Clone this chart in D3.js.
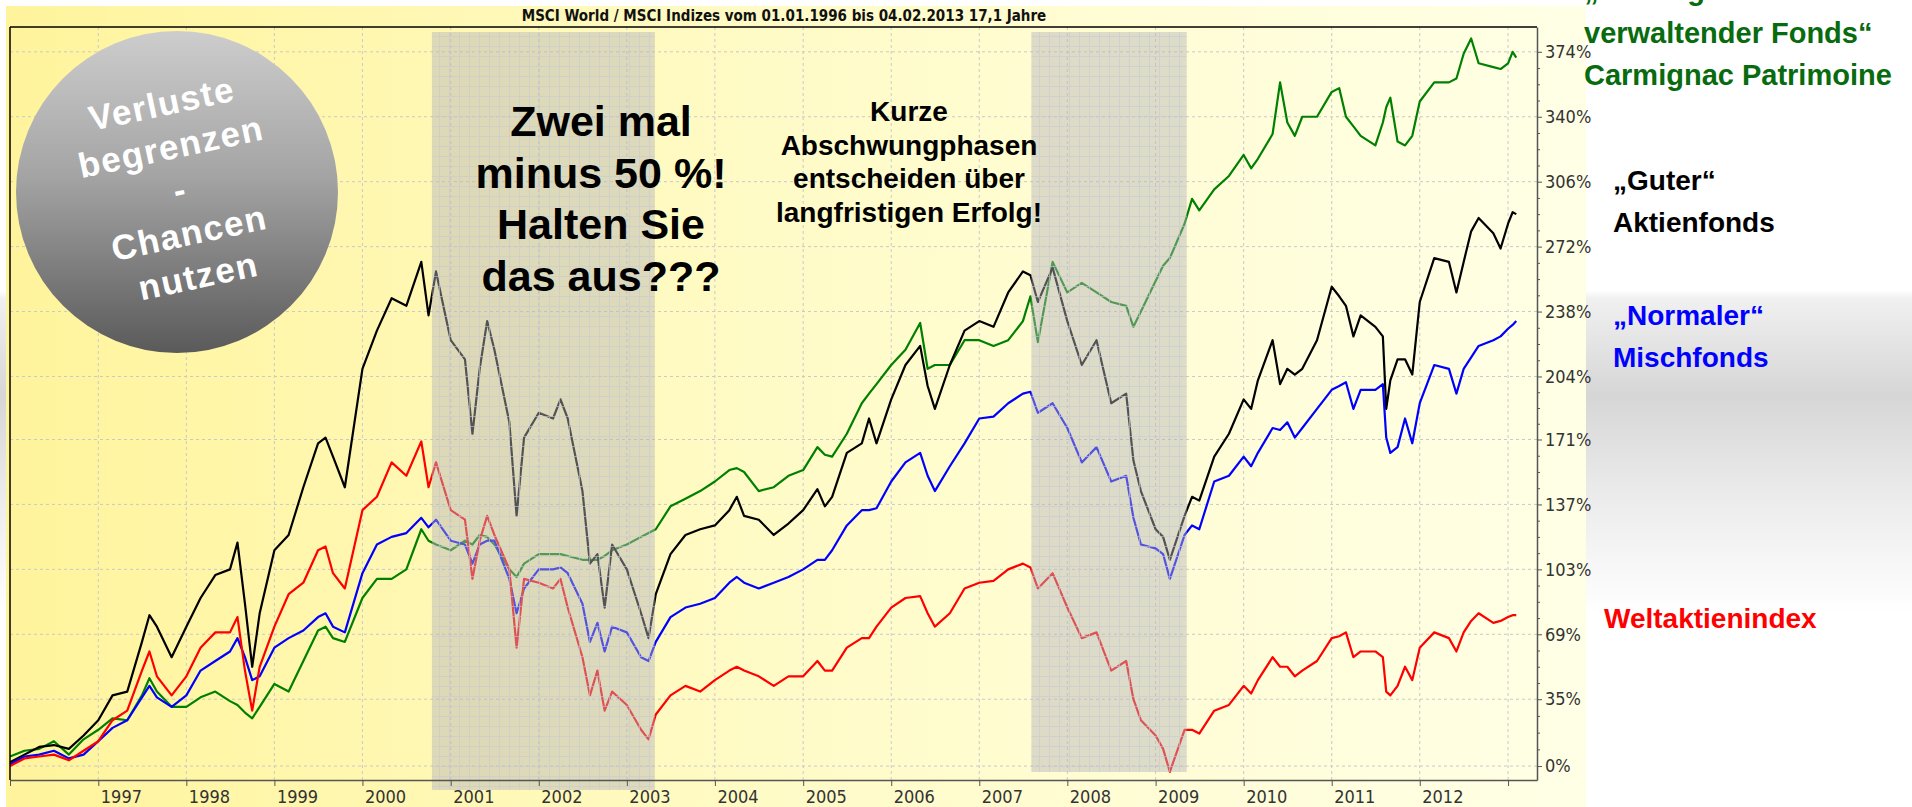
<!DOCTYPE html>
<html>
<head>
<meta charset="utf-8">
<script src="https://cdn.jsdelivr.net/npm/d3@7"></script>
<style>
  body { margin: 0; background: #fff; }
  svg { display: block; }
  .narrow { font-family: "Liberation Sans Narrow", "Arial Narrow", "DejaVu Sans Condensed", sans-serif; }
  .bold { font-family: "Liberation Sans", Arial, Helvetica, sans-serif; font-weight: bold; }
</style>
</head>
<body>
<svg id="chart"></svg>
<script>
// values, % performance since 01.01.1996
const dates = [
  '1996-01-01','1996-03-01','1996-05-01','1996-07-01','1996-09-01','1996-11-01',
  '1997-01-01','1997-03-01','1997-05-01','1997-07-01','1997-08-01','1997-09-01','1997-11-01',
  '1998-01-01','1998-03-01','1998-05-01','1998-07-01','1998-08-01','1998-09-01','1998-10-01','1998-11-01',
  '1999-01-01','1999-03-01','1999-05-01','1999-07-01','1999-08-01','1999-09-01','1999-10-20',
  '2000-01-01','2000-03-01','2000-05-01','2000-07-01','2000-09-01','2000-10-01','2000-11-01',
  '2001-01-01','2001-03-01','2001-04-01','2001-05-01','2001-06-01','2001-07-01','2001-09-01','2001-10-01','2001-11-01',
  '2002-01-01','2002-03-01','2002-04-01','2002-05-01','2002-07-01','2002-08-01','2002-09-01','2002-10-01','2002-11-01',
  '2003-01-01','2003-03-01','2003-04-01','2003-05-01','2003-07-01','2003-09-01','2003-11-01',
  '2004-01-01','2004-03-01','2004-04-01','2004-05-01','2004-07-01','2004-09-01','2004-11-01',
  '2005-01-01','2005-03-01','2005-04-01','2005-05-01','2005-07-01','2005-09-01','2005-10-01','2005-11-01',
  '2006-01-01','2006-03-01','2006-05-01','2006-06-01','2006-07-01','2006-09-01','2006-11-01',
  '2007-01-01','2007-03-01','2007-05-01','2007-07-01','2007-08-01','2007-09-01','2007-11-01',
  '2008-01-01','2008-03-01','2008-05-01','2008-07-01','2008-09-01','2008-10-01','2008-11-01',
  '2009-01-01','2009-02-01','2009-03-01','2009-05-01','2009-06-01','2009-07-01','2009-09-01','2009-11-01',
  '2010-01-01','2010-02-01','2010-03-01','2010-05-01','2010-06-01','2010-07-01','2010-08-01','2010-09-01','2010-11-01',
  '2011-01-01','2011-02-01','2011-03-01','2011-04-01','2011-05-01','2011-07-01','2011-08-01','2011-08-15','2011-09-01','2011-10-01','2011-11-01','2011-12-01',
  '2012-01-01','2012-03-01','2012-05-01','2012-06-01','2012-07-01','2012-08-01','2012-09-01','2012-11-01','2012-12-01',
  '2013-01-01','2013-01-20','2013-02-04'
];

// "Guter" Aktienfonds (black)
const aktienfonds = [
  2, 6, 10, 11, 9, 16,
  24, 37, 39, 65, 79, 73, 57,
  73, 88, 100, 103, 117, 85, 52, 80,
  113, 121, 146, 169, 172, 162, 146,
  208, 228, 245, 241, 264, 236, 259,
  223, 213, 174, 208, 233, 218, 180, 131, 172,
  185, 182, 192, 182, 144, 106, 111, 83, 116,
  103, 80, 67, 90, 111, 121, 124,
  126, 134, 141, 131, 129, 121, 127,
  134, 145, 136, 141, 164, 169, 182, 169,
  192, 210, 220, 199, 187, 210, 228,
  233, 230, 248, 259, 257, 243, 261,
  233, 210, 223, 190, 195, 160, 144,
  124, 120, 108, 131, 141, 139, 162, 174,
  192, 187, 202, 223, 200, 208, 205, 208, 223,
  251, 246, 241, 225, 236, 230, 225, 187, 202, 213, 213, 205,
  243, 266, 264, 248, 264, 280, 287, 279, 271,
  284, 290, 289
];

// Carmignac Patrimoine (green)
const carmignac = [
  5, 8, 9, 13, 6, 14,
  19, 25, 24, 37, 46, 39, 31,
  31, 36, 39, 34, 32, 28, 25, 31,
  43, 39, 55, 71, 73, 67, 65,
  88, 98, 98, 103, 124, 118, 116,
  113, 118, 116, 121, 120, 116, 103, 99, 106,
  111, 111, 111, 110, 108, 108, 108, 110, 113,
  116, 120, 122, 124, 136, 140, 144,
  149, 155, 156, 154, 144, 146, 152,
  155, 167, 163, 162, 174, 190, 195, 200,
  210, 218, 232, 208, 210, 210, 223,
  223, 220, 223, 233, 246, 222, 264,
  248, 253, 248, 243, 241, 230, 238,
  254, 262, 266, 284, 297, 291, 302, 309,
  320, 313, 318, 331, 358, 337, 330, 340, 340,
  353, 355, 340, 335, 330, 325, 337, 345, 350, 327, 325, 330,
  348, 358, 358, 360, 373, 381, 368, 366, 365,
  368, 374, 371
];

// "Normaler" Mischfonds (blue)
const mischfonds = [
  1, 5, 6, 8, 4, 6,
  13, 20, 24, 36, 42, 36, 31,
  37, 50, 55, 60, 67, 57, 45, 47,
  62, 67, 71, 78, 80, 73, 70,
  101, 116, 120, 122, 130, 125, 129,
  118, 116, 106, 116, 118, 118, 98, 80, 93,
  103, 103, 104, 101, 85, 65, 75, 60, 73,
  70, 57, 55, 65, 78, 83, 85,
  88, 96, 99, 96, 93, 96, 99,
  103, 108, 108, 113, 126, 134, 134, 135,
  149, 159, 164, 152, 144, 157, 169,
  182, 183, 190, 195, 196, 185, 190,
  177, 159, 167, 149, 152, 130, 116,
  114, 111, 98, 121, 126, 124, 149, 152,
  162, 157, 164, 177, 176, 180, 172, 177, 187,
  197, 199, 201, 187, 197, 197, 200, 172, 164, 167, 182, 169,
  190, 210, 208, 195, 208, 214, 220, 223, 225,
  229, 231, 233
];

// Weltaktienindex (red)
const weltindex = [
  0, 4, 5, 6, 3, 8,
  13, 24, 29, 50, 60, 47, 37,
  47, 62, 70, 70, 78, 50, 29, 52,
  73, 90, 96, 113, 115, 101, 93,
  134, 141, 159, 152, 170, 146, 159,
  134, 129, 98, 118, 131, 121, 103, 62, 98,
  96, 93, 98, 83, 57, 37, 50, 29, 39,
  32, 19, 14, 27, 37, 42, 39,
  45, 50, 52, 50, 47, 42, 47,
  47, 55, 50, 50, 62, 67, 67, 73,
  83, 88, 89, 80, 73, 80, 93,
  96, 97, 103, 106, 104, 93, 101,
  83, 67, 70, 50, 55, 35, 24,
  16, 9, -3, 19, 19, 17, 29, 32,
  42, 38, 45, 57, 52, 52, 47, 50, 55,
  67, 68, 70, 57, 60, 60, 57, 39, 37, 42, 52, 45,
  62, 70, 67, 60, 70, 76, 80, 75, 76,
  78, 79, 79
];

const yTicks = [0, 35, 69, 103, 137, 171, 204, 238, 272, 306, 340, 374];
const yearLabels = ['1997','1998','1999','2000','2001','2002','2003','2004','2005','2006','2007','2008','2009','2010','2011','2012'];
const xExtent = ['1996-01-01', '2013-05-01'];
const yExtent = [-7.3, 387];

// downturn phases, shaded
const phaseStarts = ['2000-10-15', '2007-08-05'];
const phaseEnds = ['2003-04-27', '2009-05-10'];

const chartTitle = 'MSCI World / MSCI Indizes vom 01.01.1996 bis 04.02.2013 17,1 Jahre';
const circleLines = ['Verluste', 'begrenzen', '-', 'Chancen', 'nutzen'];
const crashLines = ['Zwei mal', 'minus 50 %!', 'Halten Sie', 'das aus???'];
const phaseLines = ['Kurze', 'Abschwungphasen', 'entscheiden über', 'langfristigen Erfolg!'];
const greenLabel = ['„Vermögens', 'verwaltender Fonds“', 'Carmignac Patrimoine'];
const blackLabel = ['„Guter“', 'Aktienfonds'];
const blueLabel = ['„Normaler“', 'Mischfonds'];
const redLabel = ['Weltaktienindex'];


class FundChart {

    constructor(_config) {
        this.config = {
            parentElement: _config.parentElement,
            containerWidth: _config.containerWidth || 1912,
            containerHeight: _config.containerHeight || 807,
            margin: {top: 27, right: 375, bottom: 27, left: 10}
        };
        this.initVis();
    }

    initVis() {
        let vis = this;
        const m = vis.config.margin;

        vis.width = vis.config.containerWidth - m.left - m.right;
        vis.height = vis.config.containerHeight - m.top - m.bottom;

        vis.parseDate = d3.timeParse('%Y-%m-%d');

        vis.xScale = d3.scaleTime()
            .domain(xExtent.map(vis.parseDate))
            .range([0, vis.width]);

        vis.yScale = d3.scaleLinear()
            .domain(yExtent)
            .range([vis.height, 0]);

        vis.svg = d3.select(vis.config.parentElement)
            .attr('width', vis.config.containerWidth)
            .attr('height', vis.config.containerHeight);

        const defs = vis.svg.append('defs');

        const band = defs.append('linearGradient').attr('id', 'band')
            .attr('x1', 0).attr('y1', 0).attr('x2', 0).attr('y2', 1);
        [[0, '#ffffff'], [0.36, '#ffffff'], [0.37, '#f0f0f0'], [0.49, '#d6d6d6'],
         [0.6, '#e9e9e9'], [0.76, '#ffffff'], [1, '#ffffff']]
            .forEach(([o, c]) => band.append('stop').attr('offset', o).attr('stop-color', c));

        const panel = defs.append('linearGradient').attr('id', 'panel')
            .attr('x1', 0).attr('y1', 0).attr('x2', 1).attr('y2', 0);
        [[0, '#fff49c'], [0.5, '#fffbc8'], [1, '#ffffe6']]
            .forEach(([o, c]) => panel.append('stop').attr('offset', o).attr('stop-color', c));

        const ball = defs.append('linearGradient').attr('id', 'ball')
            .attr('x1', 0).attr('y1', 0).attr('x2', 0).attr('y2', 1);
        [[0, '#cdcdcd'], [0.45, '#a4a4a4'], [1, '#5a5a5a']]
            .forEach(([o, c]) => ball.append('stop').attr('offset', o).attr('stop-color', c));

        defs.append('pattern').attr('id', 'boxgrid')
            .attr('patternUnits', 'userSpaceOnUse')
            .attr('width', 10).attr('height', 10)
            .append('path')
            .attr('d', 'M9.5 0V10M0 9.5H10')
            .attr('stroke', '#c8c8d2')
            .attr('stroke-width', 1)
            .attr('fill', 'none');

        vis.svg.append('rect')
            .attr('width', vis.config.containerWidth)
            .attr('height', vis.config.containerHeight)
            .attr('fill', 'url(#band)');

        vis.svg.append('rect')
            .attr('x', 6).attr('y', 6)
            .attr('width', 1580).attr('height', vis.config.containerHeight - 6)
            .attr('fill', 'url(#panel)');

        vis.svg.append('text')
            .attr('class', 'narrow')
            .attr('x', 784).attr('y', 21)
            .attr('text-anchor', 'middle')
            .style('font-size', '15px')
            .style('font-weight', 'bold')
            .attr('fill', '#111')
            .text(chartTitle);

        vis.chart = vis.svg.append('g')
            .attr('transform', `translate(${m.left},${m.top})`);

        vis.gridG = vis.chart.append('g').attr('class', 'grid');
        vis.linesG = vis.chart.append('g').attr('class', 'series');
        vis.phaseG = vis.chart.append('g').attr('class', 'phases');

        vis.xAxisG = vis.chart.append('g')
            .attr('class', 'x-axis')
            .attr('transform', `translate(0,${vis.height})`);

        vis.yMinorG = vis.chart.append('g')
            .attr('transform', `translate(${vis.width},0)`);

        vis.yAxisG = vis.chart.append('g')
            .attr('class', 'y-axis')
            .attr('transform', `translate(${vis.width},0)`);

        vis.yearTicks = d3.timeYear.range(new Date(1996, 0, 1), new Date(2014, 0, 1));

        vis.xAxis = d3.axisBottom(vis.xScale)
            .tickValues(vis.yearTicks)
            .tickSize(6)
            .tickSizeOuter(0)
            .tickFormat(d => yearLabels.includes(String(d.getFullYear())) ? d.getFullYear() : '');

        vis.yAxis = d3.axisRight(vis.yScale)
            .tickValues(yTicks)
            .tickSize(5)
            .tickSizeOuter(0)
            .tickFormat(d => d + '%');

        let minor = [];
        for (let i = 0; i < yTicks.length - 1; i++) {
            const step = (yTicks[i + 1] - yTicks[i]) / 4;
            for (let k = 1; k < 4; k++) minor.push(yTicks[i] + k * step);
        }
        vis.yMinorAxis = d3.axisRight(vis.yScale)
            .tickValues(minor)
            .tickSize(3)
            .tickSizeOuter(0)
            .tickFormat('');

        vis.renderVis();
    }

    textBlock(parent, lines, x, y, step, size, fill, anchor) {
        parent.append('g')
            .selectAll('text')
            .data(lines)
            .join('text')
            .attr('class', 'bold')
            .attr('x', x)
            .attr('y', (d, i) => y + i * step)
            .attr('text-anchor', anchor)
            .attr('fill', fill)
            .style('font-size', size + 'px')
            .text(d => d);
    }

    renderVis() {
        let vis = this;

        // dashed grid
        vis.gridG.selectAll('.hgrid')
            .data(yTicks)
            .join('line')
            .attr('class', 'hgrid')
            .attr('x1', 0).attr('x2', vis.width)
            .attr('y1', d => vis.yScale(d)).attr('y2', d => vis.yScale(d))
            .attr('stroke', '#c9c9c9')
            .attr('stroke-dasharray', '3,3');

        vis.gridG.selectAll('.vgrid')
            .data(vis.yearTicks.slice(1))
            .join('line')
            .attr('class', 'vgrid')
            .attr('x1', d => vis.xScale(d)).attr('x2', d => vis.xScale(d))
            .attr('y1', 0).attr('y2', vis.height)
            .attr('stroke', '#c9c9c9')
            .attr('stroke-dasharray', '3,3');

        // grey ball with the slogan
        const ballG = vis.svg.append('g');
        ballG.append('circle')
            .attr('cx', 177).attr('cy', 192).attr('r', 161)
            .attr('fill', 'url(#ball)');
        ballG.append('g')
            .attr('transform', 'translate(180,190) rotate(-12)')
            .selectAll('text')
            .data(circleLines)
            .join('text')
            .attr('class', 'bold')
            .attr('x', 0)
            .attr('y', (d, i) => (i - 2) * 44 + 12)
            .attr('text-anchor', 'middle')
            .attr('fill', '#fff')
            .style('font-size', '35px')
            .style('letter-spacing', '1.5px')
            .text(d => d);

        const series = [
            {values: carmignac, color: '#008000'},
            {values: aktienfonds, color: '#000000'},
            {values: mischfonds, color: '#0000ff'},
            {values: weltindex, color: '#ff0000'}
        ];
        const dateObjs = dates.map(vis.parseDate);

        const line = d3.line()
            .x((d, i) => vis.xScale(dateObjs[i]))
            .y(d => vis.yScale(d));

        vis.linesG.selectAll('.fund')
            .data(series)
            .join('path')
            .attr('class', 'fund')
            .attr('fill', 'none')
            .attr('stroke', d => d.color)
            .attr('stroke-width', 2.2)
            .attr('stroke-linejoin', 'round')
            .attr('d', d => line(d.values));

        // shaded downturn phases (second box stops at the axis)
        const boxTop = 5;
        const boxBottoms = [vis.height + 10, vis.height - 8];
        phaseStarts.forEach((s, i) => {
            const x0 = vis.xScale(vis.parseDate(s));
            const x1 = vis.xScale(vis.parseDate(phaseEnds[i]));
            vis.phaseG.append('rect')
                .attr('x', x0).attr('y', boxTop)
                .attr('width', x1 - x0).attr('height', boxBottoms[i] - boxTop)
                .attr('fill', 'rgb(180,180,186)')
                .attr('fill-opacity', 0.46);
            vis.phaseG.append('rect')
                .attr('x', x0).attr('y', boxTop)
                .attr('width', x1 - x0).attr('height', boxBottoms[i] - boxTop)
                .attr('fill', 'url(#boxgrid)')
                .attr('opacity', 0.6);
        });

        // frame
        vis.chart.append('line')
            .attr('x1', 0).attr('x2', vis.width).attr('y1', 0).attr('y2', 0)
            .attr('stroke', '#000').attr('stroke-width', 1.5);
        vis.chart.append('line')
            .attr('x1', 0).attr('x2', 0).attr('y1', 0).attr('y2', vis.height)
            .attr('stroke', '#000').attr('stroke-width', 1.5);

        vis.xAxisG.call(vis.xAxis);
        vis.xAxisG.select('.domain').attr('stroke', '#555').attr('stroke-width', 1.5);
        vis.xAxisG.selectAll('.tick line').attr('stroke', '#555');
        vis.xAxisG.selectAll('.tick text')
            .attr('class', 'narrow')
            .attr('x', 2).attr('y', 10).attr('dy', '0.71em')
            .attr('text-anchor', 'start')
            .attr('fill', '#333')
            .style('font-size', '18px');

        vis.yMinorG.call(vis.yMinorAxis);
        vis.yMinorG.select('.domain').remove();
        vis.yMinorG.selectAll('.tick line').attr('stroke', '#555');

        vis.yAxisG.call(vis.yAxis);
        vis.yAxisG.select('.domain').attr('stroke', '#555').attr('stroke-width', 1.5);
        vis.yAxisG.selectAll('.tick line').attr('stroke', '#555');
        vis.yAxisG.selectAll('.tick text')
            .attr('class', 'narrow')
            .attr('x', 8)
            .attr('fill', '#333')
            .style('font-size', '18px');

        // annotations
        vis.textBlock(vis.svg, crashLines, 601, 136, 51.7, 43, '#000', 'middle');
        vis.textBlock(vis.svg, phaseLines, 909, 121, 33.7, 28, '#000', 'middle');

        vis.textBlock(vis.svg, greenLabel, 1584, 0, 42.5, 29, '#086b0e', 'start');
        vis.textBlock(vis.svg, blackLabel, 1613, 190, 42, 28, '#000', 'start');
        vis.textBlock(vis.svg, blueLabel, 1613, 325, 42, 28, '#0000ff', 'start');
        vis.textBlock(vis.svg, redLabel, 1604, 628, 42, 28, '#ff0000', 'start');
    }
}

new FundChart({parentElement: '#chart'});
</script>
</body>
</html>
